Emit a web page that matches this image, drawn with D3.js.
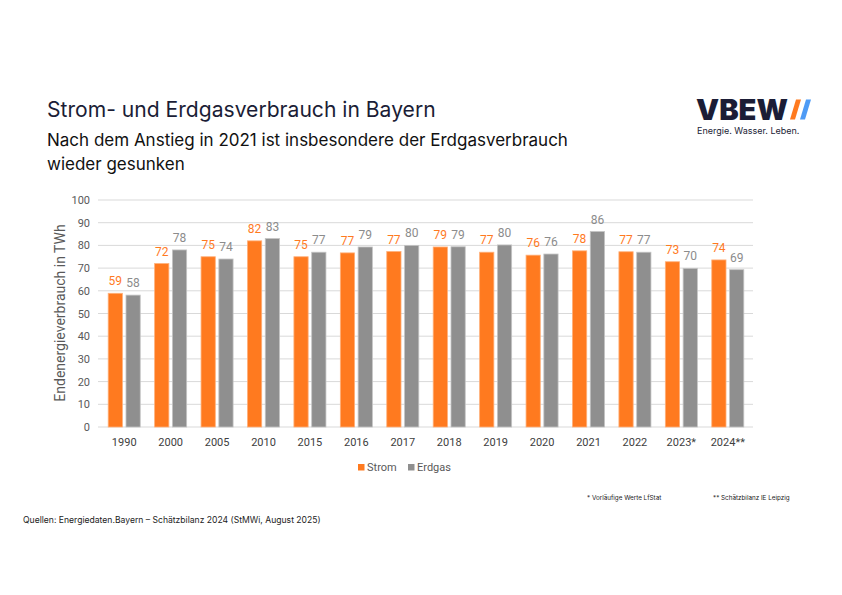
<!DOCTYPE html>
<html>
<head>
<meta charset="utf-8">
<script src="https://cdn.jsdelivr.net/npm/d3@7"></script>
<style>
  body { margin: 0; background: #fff; }
  svg { display: block; }
</style>
</head>
<body>
<svg width="842" height="595"></svg>
<script>
// data
const years = ["1990", "2000", "2005", "2010", "2015", "2016", "2017", "2018", "2019", "2020", "2021", "2022", "2023*", "2024**"];
const strom = [58.9, 72.0, 75.0, 82.0, 75.0, 76.7, 77.3, 79.3, 77.0, 75.7, 77.6, 77.2, 72.8, 73.6];
const erdgas = [58.1, 78.0, 74.0, 83.0, 77.0, 79.3, 80.0, 79.4, 80.2, 76.2, 86.1, 77.0, 69.9, 69.3];
const seriesNames = ["Strom", "Erdgas"];
const yTicks = [0, 10, 20, 30, 40, 50, 60, 70, 80, 90, 100];

const colors = { Strom: "#FF7A1F", Erdgas: "#8F8F8F" };
const labelColors = { Strom: "#FF7A1F", Erdgas: "#8C8C8C" };
const axisFont = "Roboto, 'Noto Sans', sans-serif";

const svg = d3.select("svg");

// titles
svg.append("text")
    .attr("x", 47).attr("y", 117)
    .attr("font-family", "Inter, sans-serif")
    .attr("font-size", 21.1)
    .attr("fill", "#1b1d36")
    .text("Strom- und Erdgasverbrauch in Bayern");

svg.append("text")
    .attr("x", 47).attr("y", 146)
    .attr("font-family", "Inter, sans-serif")
    .attr("font-size", 17)
    .attr("fill", "#111")
    .text("Nach dem Anstieg in 2021 ist insbesondere der Erdgasverbrauch");

svg.append("text")
    .attr("x", 47).attr("y", 170)
    .attr("font-family", "Inter, sans-serif")
    .attr("font-size", 17)
    .attr("fill", "#111")
    .text("wieder gesunken");

// logo
const logo = svg.append("g");
logo.append("text")
    .attr("x", 696).attr("y", 119.5)
    .attr("font-family", "Inter, sans-serif")
    .attr("font-weight", 900)
    .attr("font-size", 28)
    .attr("textLength", 92)
    .attr("lengthAdjust", "spacingAndGlyphs")
    .attr("fill", "#1b1d36")
    .text("VBEW");
logo.append("path")
    .attr("d", "M796,99.5 L801,99.5 L795,119.5 L790,119.5 Z")
    .attr("fill", "#FF7A1F");
logo.append("path")
    .attr("d", "M806,99.5 L811,99.5 L805,119.5 L800,119.5 Z")
    .attr("fill", "#4E9BF5");
logo.append("text")
    .attr("x", 697).attr("y", 134)
    .attr("font-family", "Inter, sans-serif")
    .attr("font-size", 9)
    .attr("fill", "#1b1d36")
    .text("Energie. Wasser. Leben.");

// chart
const x0 = d3.scaleBand()
    .domain(years)
    .range([101, 751])
    .paddingInner(0.31)
    .paddingOuter(0.155);

const x1 = d3.scaleBand()
    .domain(seriesNames)
    .range([0, x0.bandwidth()])
    .paddingInner(0.2);

const y = d3.scaleLinear()
    .domain([0, 100])
    .range([427, 200]);

// gridlines
svg.append("g")
    .selectAll("line")
    .data(yTicks)
    .enter()
    .append("line")
    .attr("x1", 98).attr("x2", 753)
    .attr("y1", d => y(d)).attr("y2", d => y(d))
    .attr("stroke", "#d9d9d9")
    .attr("stroke-width", 1);

// y labels
svg.append("g")
    .selectAll("text")
    .data(yTicks)
    .enter()
    .append("text")
    .attr("x", 90)
    .attr("y", d => y(d) + 4)
    .attr("text-anchor", "end")
    .attr("font-family", axisFont)
    .attr("font-size", 11)
    .attr("fill", "#595959")
    .text(d => d);

// y title
svg.append("text")
    .attr("transform", "translate(65,313) rotate(-90)")
    .attr("text-anchor", "middle")
    .attr("font-family", axisFont)
    .attr("font-size", 14)
    .attr("fill", "#595959")
    .text("Endenergieverbrauch in TWh");

// bars
const rows = years.map((yr, i) => ({ year: yr, Strom: strom[i], Erdgas: erdgas[i] }));

const groups = svg.append("g")
    .selectAll("g")
    .data(rows)
    .enter()
    .append("g")
    .attr("transform", d => `translate(${x0(d.year)},0)`);

const cells = groups.selectAll("g")
    .data(d => seriesNames.map(k => ({ key: k, value: d[k] })))
    .enter()
    .append("g");

cells.append("rect")
    .attr("x", d => x1(d.key))
    .attr("width", x1.bandwidth())
    .attr("y", d => y(d.value))
    .attr("height", d => y(0) - y(d.value))
    .attr("fill", d => colors[d.key])
    .attr("stroke", d => d.key === "Strom" ? "#FFB07A" : "#C4C4C4")
    .attr("stroke-width", 0.8);

cells.append("text")
    .attr("x", d => x1(d.key) + x1.bandwidth() / 2)
    .attr("y", d => y(d.value) - 8)
    .attr("text-anchor", "middle")
    .attr("font-family", axisFont)
    .attr("font-size", 12)
    .attr("fill", d => labelColors[d.key])
    .text(d => d3.format(".0f")(d.value));

// x labels
svg.append("g")
    .selectAll("text")
    .data(years)
    .enter()
    .append("text")
    .attr("x", d => x0(d) + x0.bandwidth() / 2)
    .attr("y", 446)
    .attr("text-anchor", "middle")
    .attr("font-family", axisFont)
    .attr("font-size", 11)
    .attr("fill", "#404040")
    .text(d => d);

// legend
const legend = svg.append("g");
const legendX = [358, 408];
seriesNames.forEach((k, i) => {
    legend.append("rect")
        .attr("x", legendX[i]).attr("y", 464)
        .attr("width", 6.5).attr("height", 6.5)
        .attr("fill", colors[k]);
    legend.append("text")
        .attr("x", legendX[i] + 9).attr("y", 471)
        .attr("font-family", axisFont)
        .attr("font-size", 11)
        .attr("fill", "#595959")
        .text(k);
});

// footnotes
svg.append("text")
    .attr("x", 587).attr("y", 500)
    .attr("font-family", "Inter, sans-serif")
    .attr("font-size", 6.3)
    .attr("fill", "#222")
    .text("* Vorläufige Werte LfStat");
svg.append("text")
    .attr("x", 713).attr("y", 500)
    .attr("font-family", "Inter, sans-serif")
    .attr("font-size", 6.3)
    .attr("fill", "#222")
    .text("** Schätzbilanz IE Leipzig");
svg.append("text")
    .attr("x", 23).attr("y", 523)
    .attr("font-family", "Inter, sans-serif")
    .attr("font-size", 8.6)
    .attr("fill", "#222")
    .text("Quellen: Energiedaten.Bayern – Schätzbilanz 2024 (StMWi, August 2025)");
</script>
</body>
</html>
